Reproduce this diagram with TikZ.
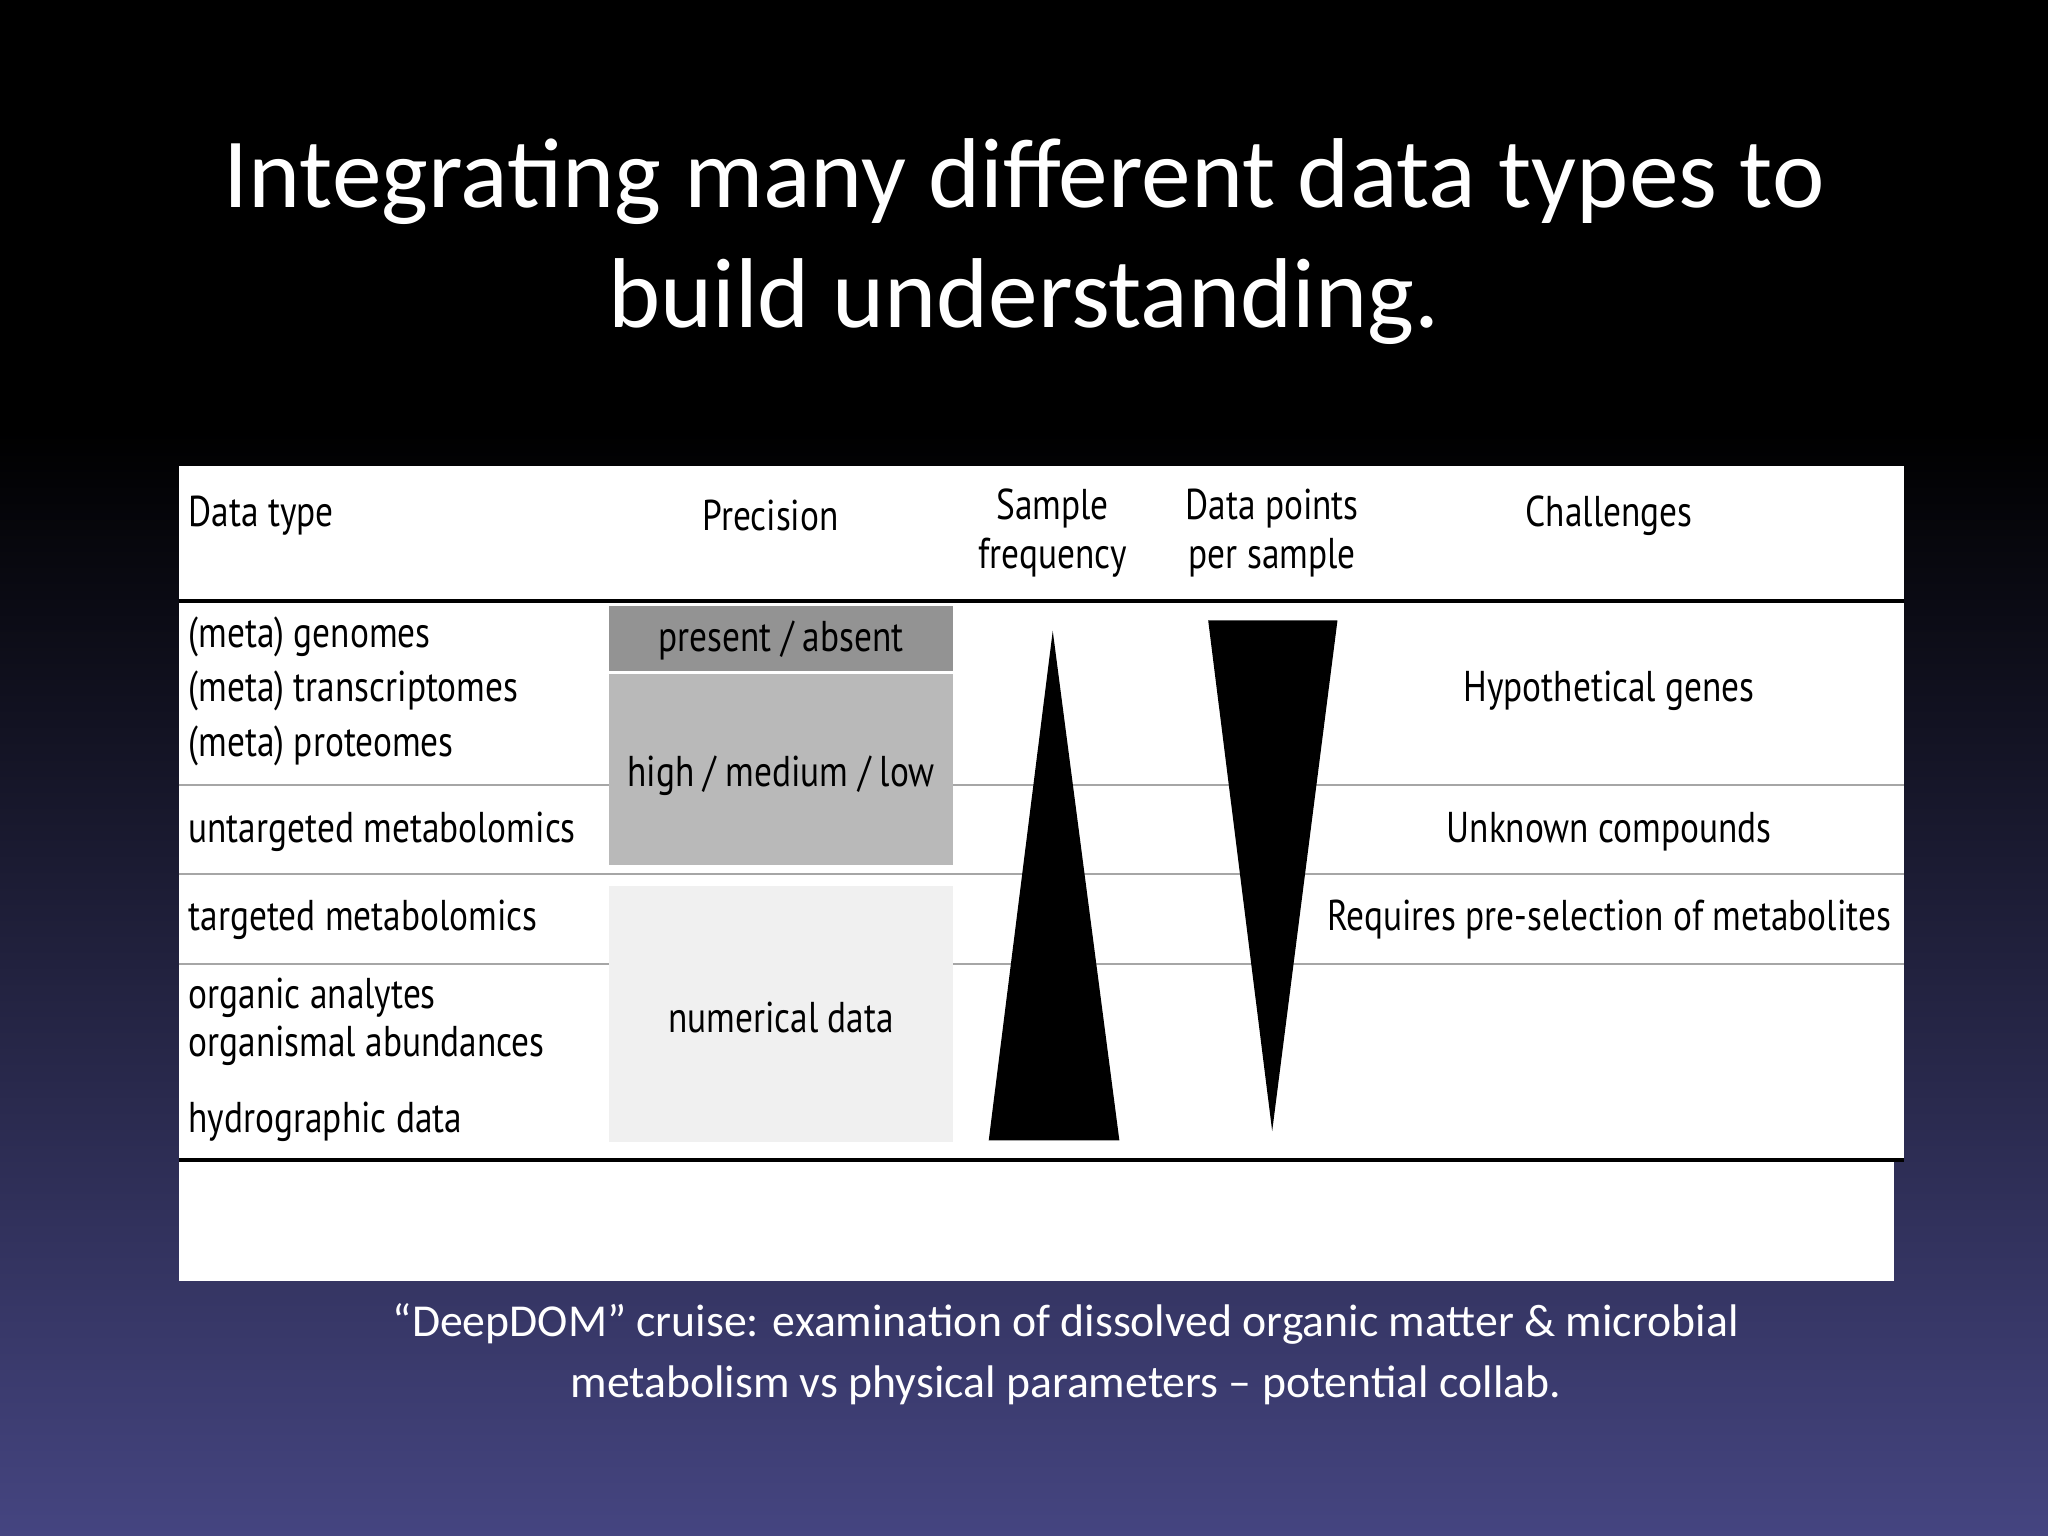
\documentclass[tikz,border=0pt]{standalone}
\usepackage{fontspec}
\setmainfont{Carlito}
\newfontfamily\tabfont[FakeStretch=0.82]{PT Sans}
\begin{document}
\begin{tikzpicture}[x=0.5pt,y=-0.5pt,
  tt/.style={font=\tabfont\fontsize{16.5}{19}\selectfont,text=black,inner sep=0},
  rowline/.style={draw=gray!70,line width=0.8pt}]
\useasboundingbox (0,0) rectangle (1568,1176);
\shade[top color=black,bottom color=black] (0,0) rectangle (1568,330);
\shade[top color=black,bottom color=black!35!blue!40!gray!90!black] (0,330) rectangle (1568,1176);
\fill[black!40!blue!25!gray!75!black,opacity=0] (0,0) rectangle (1,1);
\node[text=white,font=\fontsize{38}{46}\selectfont,align=center] (title) at (784,185) {Integrating many different data types to\\build understanding.};
\fill[white] (137,357) rectangle (1458,888);
\fill[white] (137,888) rectangle (1450,981);
\fill[gray!85] (466,464) coordinate (pa) rectangle (730,514);
\fill[gray!55] (466,516) rectangle (730,662);
\fill[gray!12] (466,678) rectangle (730,874);
\draw[rowline] (137,601) -- (466,601) (730,601) -- (1458,601);
\draw[rowline] (137,669) -- (1458,669);
\draw[rowline] (137,738) -- (466,738) (730,738) -- (1458,738);
\draw[line width=1.3pt] (137,460) -- (1458,460);
\draw[line width=1.3pt] (137,888) -- (1458,888);
\fill[black] (806,483) -- (857,873) -- (757,873) -- cycle;
\fill[black] (925,475) -- (1024,475) -- (974,866) -- cycle;
\node[tt,anchor=west] (h1) at (144,395) {Data type};
\node[tt] (h2) at (590,395) {Precision};
\node[tt,align=center] (h3) at (806,408) {Sample\\frequency};
\node[tt,align=center] (h4) at (974,408) {Data points\\per sample};
\node[tt] (h5) at (1232,395) {Challenges};
\node[tt,anchor=west] (r1) at (144,488) {(meta) genomes};
\node[tt,anchor=west] (r2) at (144,529) {(meta) transcriptomes};
\node[tt,anchor=west] (r3) at (144,571) {(meta) proteomes};
\node[tt,anchor=west] (r4) at (144,637) {untargeted metabolomics};
\node[tt,anchor=west] (r5) at (144,704) {targeted metabolomics};
\node[tt,anchor=west] (r6) at (144,764) {organic analytes};
\node[tt,anchor=west] (r7) at (144,801) {organismal abundances};
\node[tt,anchor=west] (r8) at (144,859) {hydrographic data};
\node[tt] (p1) at (598,490) {present / absent};
\node[tt] (p2) at (598,594) {high / medium / low};
\node[tt] (p3) at (598,779) {numerical data};
\node[tt] (c1) at (1232,529) {Hypothetical genes};
\node[tt] (c2) at (1232,637) {Unknown compounds};
\node[tt] (c3) at (1232,704) {Requires pre-selection of metabolites};
\node[text=white,font=\fontsize{17.5}{23.5}\selectfont,align=center] (cap) at (816,1037) {``DeepDOM'' cruise: examination of dissolved organic matter \& microbial\\metabolism vs physical parameters -- potential collab.};
\end{tikzpicture}
\end{document}
